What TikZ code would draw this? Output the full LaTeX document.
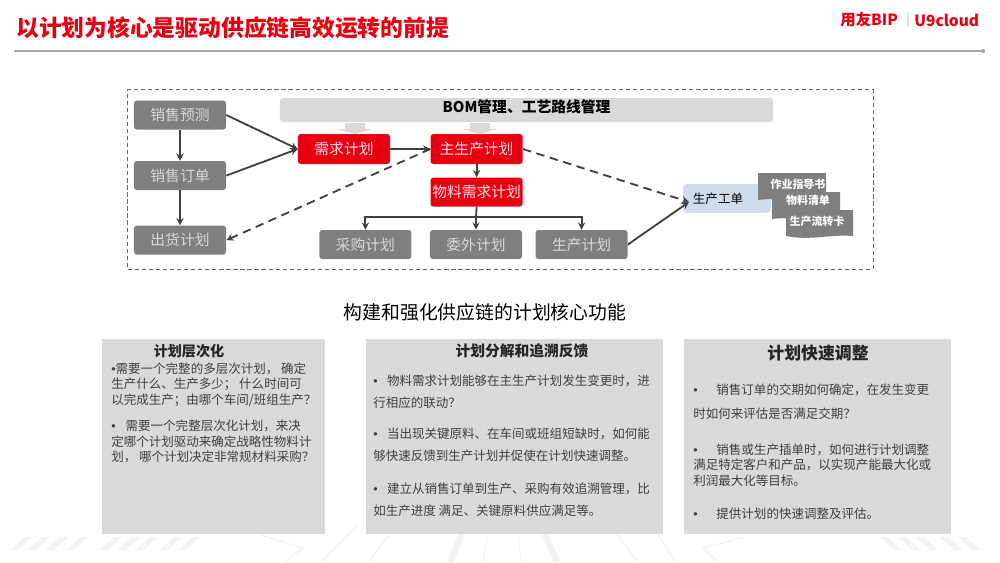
\documentclass[tikz,border=0pt]{standalone}
\usepackage{fontspec}
\setmainfont{Noto Sans CJK SC}
\newfontfamily\bulletfont{Liberation Sans}
\usetikzlibrary{arrows,positioning}
\definecolor{yyred}{RGB}{230,0,18}
\definecolor{yygray}{RGB}{127,127,127}
\definecolor{yylight}{RGB}{217,217,217}
\definecolor{yyblue}{RGB}{208,220,236}
\definecolor{yyarrow}{RGB}{64,64,64}
\definecolor{yytext}{RGB}{64,64,64}
\definecolor{yyback}{RGB}{242,242,242}
\newcommand{\pdot}{{\bulletfont •}}
\tikzstyle{planbox} = [rectangle, rounded corners=2pt, minimum width=2.3cm, minimum height=0.725cm, inner sep=0pt, text centered, fill=yygray, text=yylight, font=\fontsize{10.5pt}{12pt}\selectfont]
\tikzstyle{redbox} = [planbox, fill=yyred, text=white!88!yyred]
\tikzstyle{arrow} = [line width=1.3pt,->,>=stealth,color=yyarrow]
\tikzstyle{dasharrow} = [arrow, dash pattern=on 6pt off 4pt]
\tikzstyle{panel} = [rectangle, inner sep=0pt, fill=yylight, anchor=north west]
\tikzstyle{paneltitle} = [inner sep=0pt, font=\bfseries\fontsize{10.5pt}{12pt}\selectfont, text=black!85]
\tikzstyle{paratext} = [inner sep=0pt, anchor=north west, align=left, text=yytext, font=\fontsize{8.9pt}{11pt}\selectfont]
\tikzstyle{doctext} = [inner sep=0pt, text=white, font=\bfseries\fontsize{7.8pt}{9pt}\selectfont]
\tikzstyle{backline} = [yyback, line width=0.8pt]
\begin{document}
\begin{tikzpicture}[x=0.025cm, y=-0.025cm]
\useasboundingbox (0,0) rectangle (1000,562);

% faint background of the slide
\foreach \xa/\xb in {390/368,488/483,518/521,617/638,658/675} {
  \draw[backline] (\xa,534) -- (\xb,562);
}
\draw[yyback, line width=4.5pt] (462,534) -- (450,562);
\draw[yyback, line width=4.5pt] (545,534) -- (557,562);
\draw[backline] (261,535) -- (303,548) -- (285,562);
\draw[backline] (358,525) -- (320,562);
\draw[backline] (745,537) -- (703,548) -- (718,562);
\foreach \xs in {10,28,46,66,100,118,136,160,178} {
  \fill[yyback] (\xs,550) -- ++(8,0) -- ++(14,-13) -- ++(-8,0) -- cycle;
}
\foreach \xs in {880,898,916,940,958} {
  \fill[yyback] (\xs,537) -- ++(8,0) -- ++(14,13) -- ++(-8,0) -- cycle;
}

% header
\node (title) [anchor=west, inner sep=0pt, text=yyred, font=\bfseries\fontsize{16.2pt}{18pt}\selectfont] at (16,28) {以计划为核心是驱动供应链高效运转的前提};
\coordinate (ruleL) at (14,51);
\node (ruleR) [circle, fill=yygray!70, inner sep=0pt, minimum size=3pt] at (983,51) {};
\draw[yygray!70, line width=0.8pt] (ruleL) -- (ruleR);
\node (logoA) [anchor=west, inner sep=0pt, text=yyred, font=\bfseries\fontsize{11pt}{12pt}\selectfont] at (840,20) {用友BIP};
\node (logoB) [anchor=west, inner sep=0pt, text=yygray!60, font=\fontsize{9pt}{10pt}\selectfont] at (906,20) {|};
\node (logoC) [anchor=west, inner sep=0pt, text=yyred, font=\bfseries\fontsize{11pt}{12pt}\selectfont] at (914,20) {U9cloud};

% flow chart
\node (frame) [rectangle, draw=yyarrow!80, line width=0.7pt, densely dashed, minimum width=18.625cm, minimum height=4.475cm, inner sep=0pt] at (500.5,179.5) {};
\node (bom) [rectangle, rounded corners=2pt, fill=yylight, minimum width=12.325cm, minimum height=0.6cm, inner sep=0pt, text height=0.33cm, text depth=0.22cm, font=\bfseries\fontsize{10.5pt}{12pt}\selectfont] at (526.5,110) {BOM管理、工艺路线管理};
\foreach \x in {355,480} {
  \fill[yylight] (\x-10,123) -- (\x+10,123) -- (\x+10,129) -- (\x+18,129) -- (\x,134) -- (\x-18,129) -- (\x-10,129) -- cycle;
}
\node (forecast) [planbox] at (180,115) {销售预测};
\node (order) [planbox, below=0.775cm of forecast] {销售订单};
\node (ship) [planbox, below=0.875cm of order] {出货计划};
\node (demand) [redbox, minimum height=0.75cm] at (344,149) {需求计划};
\node (master) [redbox, minimum height=0.75cm, right=1cm of demand] {主生产计划};
\node (mrp) [redbox, below=0.325cm of master] {物料需求计划};
\node (outsrc) [planbox] at (476,244.5) {委外计划};
\node (purch) [planbox, left=0.45cm of outsrc] {采购计划};
\node (prod) [planbox, right=0.325cm of outsrc] {生产计划};
\node (wo) [rectangle, rounded corners=3pt, fill=yyblue, minimum width=2.2cm, minimum height=0.725cm, inner sep=0pt, text=black, font=\fontsize{8.9pt}{11pt}\selectfont] at (727,198.5) {\hspace{-0.45cm}生产工单};
\coordinate (woin) at (689,202);
\coordinate (split) at (476,217);

\fill[yygray] (758,173) -- (826,173) -- (826,201) .. controls (805,203) and (780,197) .. (758,200) -- cycle;
\node (docA) [doctext] at (798,184) {作业指导书};
\fill[yygray] (772,192) -- (840,192) -- (840,220) .. controls (820,222) and (795,216) .. (772,219) -- cycle;
\node (docB) [doctext] at (808,200) {物料清单};
\fill[yygray] (786,210) -- (853,210) -- (853,236) .. controls (830,234) and (810,241) .. (786,236) -- cycle;
\node (docC) [doctext] at (817,221) {生产流转卡};

\draw[arrow] (forecast) -- (order);
\draw[arrow] (order) -- (ship);
\draw[arrow] (forecast.east) -- (demand.west);
\draw[arrow] (order.east) -- (demand.west);
\draw[arrow] (demand) -- (master);
\draw[arrow] (master) -- (mrp);
\draw[line width=1.3pt, color=yyarrow] (mrp.south) -- (split);
\draw[arrow] (split) -| (purch.north);
\draw[arrow] (split) -- (outsrc.north);
\draw[arrow] (split) -| (prod.north);
\draw[dasharrow] (master.west) -- (ship.east);
\draw[dasharrow] (master.east) -- (woin);
\draw[arrow] (prod.east) -- (woin);

% three panels
\node (subtitle) [inner sep=0pt, font=\fontsize{13.4pt}{15pt}\selectfont] at (485,312) {构建和强化供应链的计划核心功能};
\node (panelA) [panel, minimum width=5.575cm, minimum height=4.875cm] at (102,339) {};
\node (panelB) [panel, minimum width=7.425cm, minimum height=4.875cm] at (366,339) {};
\node (panelC) [panel, minimum width=6.675cm, minimum height=4.875cm] at (684,339) {};

\node (titleA) [paneltitle, font=\bfseries\fontsize{10pt}{12pt}\selectfont] at (189,351) {计划层次化};
\node (paraA) [paratext] at (111,362.5) {\pdot{}需要一个完整的多层次计划， 确定\\生产什么、生产多少； 什么时间可\\以完成生产；由哪个车间/班组生产？};
\node (paraB) [paratext] at (111,420) {\pdot\hspace{0.8em}需要一个完整层次化计划，来决\\定哪个计划驱动来确定战略性物料计\\划，\ 哪个计划决定非常规材料采购？};

\node (titleB) [paneltitle] at (522,351) {计划分解和追溯反馈};
\node (paraC) [paratext, font=\fontsize{8.9pt}{15.6pt}\selectfont] at (373,374.5) {\pdot\hspace{0.75em}物料需求计划能够在主生产计划发生变更时，进\\行相应的联动？};
\node (paraD) [paratext, font=\fontsize{8.9pt}{15.6pt}\selectfont] at (373,428) {\pdot\hspace{0.75em}当出现关键原料、在车间或班组短缺时，如何能\\够快速反馈到生产计划并促使在计划快速调整。};
\node (paraE) [paratext, font=\fontsize{8.9pt}{15.6pt}\selectfont] at (373,483) {\pdot\hspace{0.75em}建立从销售订单到生产、采购有效追溯管理，比\\如生产进度 满足、关键原料供应满足等。};

\node (titleC) [paneltitle, font=\bfseries\fontsize{12pt}{14pt}\selectfont] at (818,353) {计划快速调整};
\node (paraF) [paratext, font=\fontsize{8.9pt}{17pt}\selectfont] at (693,384) {\pdot\hspace{1.5em}销售订单的交期如何确定，在发生变更\\时如何来评估是否满足交期？};
\node (paraG) [paratext] at (693,443.5) {\pdot\hspace{1.5em}销售或生产插单时，如何进行计划调整\\满足特定客户和产品，以实现产能最大化或\\利润最大化等目标。};
\node (paraH) [paratext] at (693,508) {\pdot\hspace{1.5em}提供计划的快速调整及评估。};
\end{tikzpicture}
\end{document}
